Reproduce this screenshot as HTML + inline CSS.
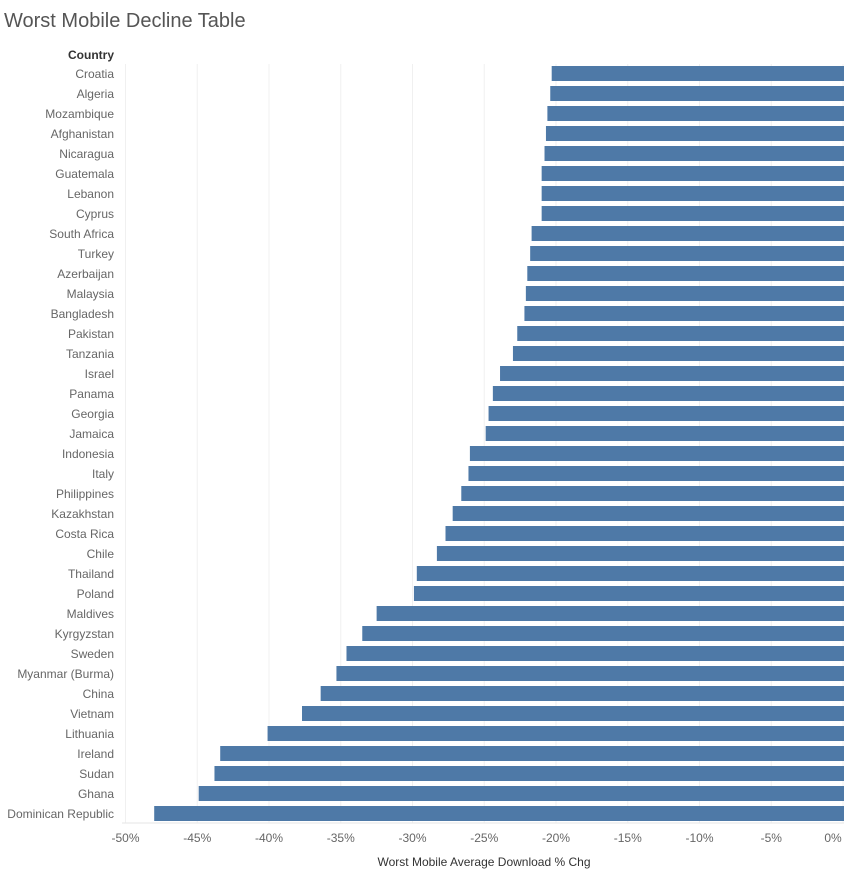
<!DOCTYPE html>
<html><head><meta charset="utf-8"><style>
body{margin:0;background:#fff;font-family:"Liberation Sans",sans-serif}
svg text{font-family:"Liberation Sans",sans-serif}
</style></head><body>
<svg width="844" height="878">
<text x="4" y="27" font-size="20" fill="#555">Worst Mobile Decline Table</text>
<text x="114" y="59" font-size="12" font-weight="bold" fill="#333" text-anchor="end">Country</text>
<g id="grid"></g><g id="bars"></g><g id="labels"></g><g id="ticks"></g>
<line x1="122" y1="823" x2="844" y2="823" stroke="#e6e6e6"/>
<text x="484" y="866" font-size="12" fill="#333" text-anchor="middle">Worst Mobile Average Download % Chg</text>
</svg>
<script>
const countries=["Croatia","Algeria","Mozambique","Afghanistan","Nicaragua","Guatemala","Lebanon","Cyprus","South Africa","Turkey","Azerbaijan","Malaysia","Bangladesh","Pakistan","Tanzania","Israel","Panama","Georgia","Jamaica","Indonesia","Italy","Philippines","Kazakhstan","Costa Rica","Chile","Thailand","Poland","Maldives","Kyrgyzstan","Sweden","Myanmar (Burma)","China","Vietnam","Lithuania","Ireland","Sudan","Ghana","Dominican Republic"];
const values=[-20.3,-20.4,-20.6,-20.7,-20.8,-21.0,-21.0,-21.0,-21.7,-21.8,-22.0,-22.1,-22.2,-22.7,-23.0,-23.9,-24.4,-24.7,-24.9,-26.0,-26.1,-26.6,-27.2,-27.7,-28.3,-29.7,-29.9,-32.5,-33.5,-34.6,-35.3,-36.4,-37.7,-40.1,-43.4,-43.8,-44.9,-48.0];
const ticks=[-50,-45,-40,-35,-30,-25,-20,-15,-10,-5,0];
const tickLabels=["-50%","-45%","-40%","-35%","-30%","-25%","-20%","-15%","-10%","-5%","0%"];
const NS="http://www.w3.org/2000/svg";
const xs=v=>843+v*14.35;
const ys=i=>64+i*20;
function mk(t,a,p){const e=document.createElementNS(NS,t);for(const k in a)e.setAttribute(k,a[k]);document.getElementById(p).appendChild(e);return e;}
ticks.forEach((t,i)=>{
 const g=mk("line",{x1:xs(t),x2:xs(t),y1:64,y2:823,stroke:"#f0f0f0"},"grid");
 
 
 const l=mk("text",{x:xs(t)-(t===0?10:0),y:842,"font-size":12,fill:"#666","text-anchor":"middle"},"ticks");
 l.textContent=tickLabels[i];
 
 
});
countries.forEach((c,i)=>{
 const b=mk("rect",{x:xs(values[i]),y:ys(i)+2,width:xs(0)-xs(values[i])+1,height:15,fill:"#4e79a7"},"bars");
 
 
 const t=mk("text",{x:114,y:ys(i)+14,"font-size":12,fill:"#666","text-anchor":"end"},"labels");
 t.textContent=c;
 
 
});
</script>
</body></html>
